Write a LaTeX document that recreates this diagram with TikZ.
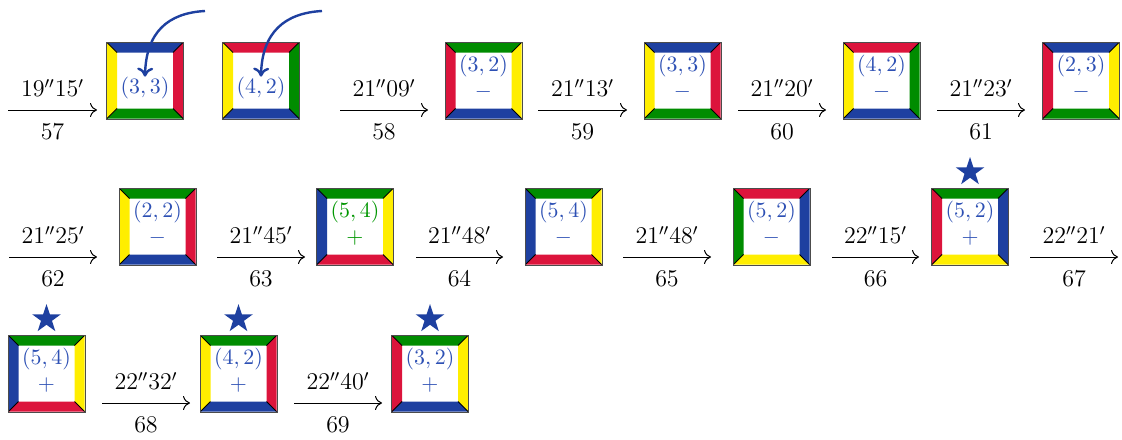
\documentclass[tikz,border=0pt]{standalone}
\usetikzlibrary{shapes.geometric, arrows.meta}

\definecolor{cubeblue}{RGB}{30,64,160}
\definecolor{cubered}{RGB}{220,20,60}
\definecolor{cubegreen}{RGB}{0,140,0}
\definecolor{cubeyellow}{RGB}{255,238,0}
\definecolor{labelblue}{RGB}{45,80,180}
\definecolor{labelgreen}{RGB}{0,150,0}

\tikzset{
  every node/.style={font=\fontsize{12}{14}\selectfont},
  tilebox/.style={draw=black!70, line width=0.5pt, minimum size=38.5pt, inner sep=0pt},
  tiletext/.style={text=labelblue, inner sep=0pt, font=\fontsize{11}{13}\selectfont},
  movearrow/.style={-{To[length=3.5pt, width=7pt]}, line width=0.5pt},
  pointer/.style={-{To[length=4.5pt, width=8pt]}, cubeblue, line width=1.2pt},
  bluestar/.style={star, star points=5, star point ratio=2.6, fill=cubeblue, minimum size=15pt, inner sep=0pt}
}

% coloured frame: name, x, y, top, right, bottom, left
\newcommand{\tile}[7]{%
  \begin{scope}[shift={(#2,#3)}]
    \fill[#4] (-38,-38) -- (38,-38) -- (28,-28) -- (-28,-28) -- cycle;
    \fill[#5] (38,-38) -- (38,38) -- (28,28) -- (28,-28) -- cycle;
    \fill[#6] (38,38) -- (-38,38) -- (-28,28) -- (28,28) -- cycle;
    \fill[#7] (-38,38) -- (-38,-38) -- (-28,-28) -- (-28,28) -- cycle;
    \draw[line width=0.4pt] (-38,-38) -- (-28,-28) (38,-38) -- (28,-28)
      (38,38) -- (28,28) (-38,38) -- (-28,28);
  \end{scope}
  \node[tilebox] (#1) at (#2,#3) {};
}
% text inside a frame: name, x, y, cell, sign
\newcommand{\tiletext}[5]{%
  \node[tiletext] (#1l) at (#2,#3-14) {$#4$};
  \node[tiletext] (#1s) at (#2,#3+12) {$#5$};
}
% move arrow: name, from x, to x, y, time, number
\newcommand{\move}[6]{%
  \coordinate (#1a) at (#2,#4);
  \coordinate (#1b) at (#3,#4);
  \draw[movearrow] (#1a) -- (#1b)
    node[midway, above=3pt] (#1t) {$#5$}
    node[midway, below=3.5pt] (#1n) {$#6$};
}

\begin{document}
\begin{tikzpicture}[x=0.5pt, y=-0.5pt]
    \useasboundingbox (0,0) rectangle (1122,439);
    % Row 1
    \move{m57}{8}{97}{110}{19''15'}{57}
    \tile{cA}{145}{80.5}{cubeblue}{cubered}{cubegreen}{cubeyellow}
    \node[tiletext] (cAl) at (145,88) {$(3,3)$};
    \tile{cB}{261}{80.5}{cubered}{cubegreen}{cubeblue}{cubeyellow}
    \node[tiletext] (cBl) at (261,88) {$(4,2)$};
    \move{m58}{340}{428}{110}{21''09'}{58}
    \tile{cC}{483.5}{80.5}{cubegreen}{cubeyellow}{cubeblue}{cubered}
    \tiletext{cC}{483.5}{80.5}{(3,2)}{-}
    \move{m59}{538}{627}{110}{21''13'}{59}
    \tile{cD}{682.5}{80.5}{cubeblue}{cubered}{cubegreen}{cubeyellow}
    \tiletext{cD}{682.5}{80.5}{(3,3)}{-}
    \move{m60}{738}{826}{110}{21''20'}{60}
    \tile{cE}{881.5}{80.5}{cubered}{cubegreen}{cubeblue}{cubeyellow}
    \tiletext{cE}{881.5}{80.5}{(4,2)}{-}
    \move{m61}{937}{1025}{110}{21''23'}{61}
    \tile{cF}{1081}{80.5}{cubeblue}{cubeyellow}{cubegreen}{cubered}
    \tiletext{cF}{1081}{80.5}{(2,3)}{-}
    % Pointers into the first two frames
    \coordinate (pA) at (205,11);
    \coordinate (pB) at (322,11);
    \draw[pointer] (pA) .. controls (168,13) and (146,32) .. (cAl.north);
    \draw[pointer] (pB) .. controls (285,13) and (262,32) .. (cBl.north);
    % Row 2
    \move{m62}{9}{97}{257}{21''25'}{62}
    \tile{cG}{157.5}{226.5}{cubegreen}{cubered}{cubeblue}{cubeyellow}
    \tiletext{cG}{157.5}{226.5}{(2,2)}{-}
    \move{m63}{217}{305}{257}{21''45'}{63}
    \tile{cH}{355}{226.5}{cubegreen}{cubeyellow}{cubered}{cubeblue}
    \tiletext{cH}{355}{226.5}{\color{labelgreen}(5,4)}{\color{labelgreen}+}
    \move{m64}{416}{503}{257}{21''48'}{64}
    \tile{cI}{563.5}{226.5}{cubegreen}{cubeyellow}{cubered}{cubeblue}
    \tiletext{cI}{563.5}{226.5}{(5,4)}{-}
    \move{m65}{623}{711}{257}{21''48'}{65}
    \tile{cJ}{771.5}{226.5}{cubered}{cubeblue}{cubeyellow}{cubegreen}
    \tiletext{cJ}{771.5}{226.5}{(5,2)}{-}
    \move{m66}{832}{919}{257}{22''15'}{66}
    \tile{cK}{970}{226.5}{cubegreen}{cubeblue}{cubeyellow}{cubered}
    \tiletext{cK}{970}{226.5}{(5,2)}{+}
    \node[bluestar] (sK) at (970,172) {};
    \move{m67}{1030}{1118}{257}{22''21'}{67}
    % Row 3
    \tile{cL}{46.5}{373.5}{cubegreen}{cubeyellow}{cubered}{cubeblue}
    \tiletext{cL}{46.5}{373.5}{(5,4)}{+}
    \node[bluestar] (sL) at (46.5,319) {};
    \move{m68}{102}{190}{403}{22''32'}{68}
    \tile{cM}{238.5}{373.5}{cubegreen}{cubered}{cubeblue}{cubeyellow}
    \tiletext{cM}{238.5}{373.5}{(4,2)}{+}
    \node[bluestar] (sM) at (238.5,319) {};
    \move{m69}{294}{382}{403}{22''40'}{69}
    \tile{cN}{430}{373.5}{cubegreen}{cubeyellow}{cubeblue}{cubered}
    \tiletext{cN}{430}{373.5}{(3,2)}{+}
    \node[bluestar] (sN) at (430,319) {};
\end{tikzpicture}
\end{document}
